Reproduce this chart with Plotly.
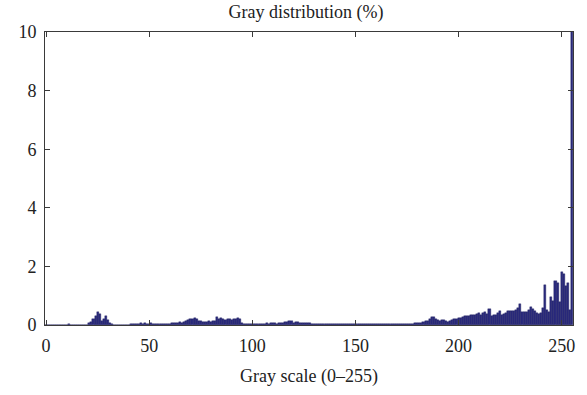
import plotly.graph_objects as go

gray_levels = list(range(256))
percent = [
    0, 0, 0, 0, 0, 0, 0, 0, 0, 0, 0.01, 0.03, 0.01, 0, 0, 0,
    0, 0, 0, 0, 0.01, 0.06, 0.11, 0.2, 0.3, 0.43, 0.37, 0.15, 0.2, 0.32, 0.17, 0.06,
    0.02, 0.01, 0.01, 0.01, 0.01, 0.01, 0.01, 0.01, 0.01, 0.02, 0.02, 0.03, 0.04, 0.05, 0.06, 0.04,
    0.08, 0.05, 0.04, 0.06, 0.03, 0.04, 0.03, 0.03, 0.04, 0.03, 0.05, 0.04, 0.05, 0.06, 0.07, 0.06,
    0.08, 0.09, 0.08, 0.1, 0.12, 0.18, 0.22, 0.2, 0.24, 0.2, 0.13, 0.12, 0.11, 0.1, 0.1, 0.12,
    0.11, 0.12, 0.15, 0.28, 0.2, 0.25, 0.19, 0.18, 0.2, 0.19, 0.18, 0.2, 0.19, 0.24, 0.22, 0.08,
    0.05, 0.04, 0.05, 0.04, 0.04, 0.03, 0.03, 0.04, 0.05, 0.04, 0.05, 0.06, 0.05, 0.06, 0.07, 0.06,
    0.05, 0.06, 0.07, 0.08, 0.09, 0.1, 0.15, 0.12, 0.08, 0.09, 0.1, 0.07, 0.08, 0.07, 0.06, 0.08,
    0.07, 0.05, 0.04, 0.05, 0.04, 0.03, 0.04, 0.05, 0.04, 0.03, 0.04, 0.05, 0.03, 0.04, 0.05, 0.04,
    0.04, 0.03, 0.04, 0.05, 0.03, 0.04, 0.03, 0.03, 0.04, 0.03, 0.03, 0.02, 0.03, 0.04, 0.03, 0.03,
    0.03, 0.04, 0.03, 0.03, 0.04, 0.03, 0.04, 0.03, 0.04, 0.04, 0.03, 0.04, 0.05, 0.04, 0.04, 0.05,
    0.04, 0.05, 0.05, 0.06, 0.06, 0.07, 0.08, 0.09, 0.12, 0.15, 0.22, 0.28, 0.26, 0.2, 0.17, 0.15,
    0.16, 0.18, 0.12, 0.11, 0.15, 0.18, 0.2, 0.22, 0.25, 0.24, 0.27, 0.3, 0.32, 0.3, 0.33, 0.35,
    0.34, 0.37, 0.4, 0.34, 0.42, 0.45, 0.375, 0.55, 0.31, 0.34, 0.34, 0.42, 0.47, 0.35, 0.375, 0.42,
    0.47, 0.49, 0.47, 0.48, 0.51, 0.59, 0.72, 0.43, 0.43, 0.43, 0.51, 0.6, 0.55, 0.48, 0.42, 0.375,
    0.42, 0.57, 1.36, 0.51, 0.45, 0.94, 0.83, 1.51, 1.45, 0.8, 1.8, 1.73, 1.34, 1.42, 0.5, 12,
]

x_ticks = [0, 50, 100, 150, 200, 250]
y_ticks = [0, 2, 4, 6, 8, 10]

title_text = "Gray distribution (%)"
x_title = "Gray scale (0\u2013255)"

FONT = "Liberation Serif, Times New Roman, serif"
FS = 18
AXIS_COLOR = "#3a3a3a"
TEXT_COLOR = "#222222"

fig = go.Figure(
    go.Bar(
        x=gray_levels,
        y=percent,
        width=1.0,
        marker=dict(color="#2b2b7e", line=dict(color="#1c1c5c", width=0.4)),
    )
)

fig.update_layout(
    template="none",
    width=587,
    height=395,
    margin=dict(l=45, r=14, t=32, b=70, autoexpand=False),
    paper_bgcolor="white",
    plot_bgcolor="white",
    bargap=0,
    showlegend=False,
    font=dict(family=FONT, size=FS, color=TEXT_COLOR),
    title=dict(
        text=title_text,
        x=306 / 587,
        xanchor="center",
        y=1 - 12 / 395,
        yanchor="middle",
        yref="container",
        font=dict(family=FONT, size=FS, color=TEXT_COLOR),
    ),
)

fig.update_xaxes(
    automargin=False,
    range=[-0.5, 255.5],
    tickmode="array",
    tickvals=x_ticks,
    ticks="inside",
    ticklen=5,
    tickwidth=1,
    tickcolor=AXIS_COLOR,
    showline=True,
    linecolor=AXIS_COLOR,
    linewidth=1,
    mirror="ticks",
    showgrid=False,
    zeroline=False,
    ticklabelstandoff=4,
    title=dict(text=x_title, standoff=14, font=dict(family=FONT, size=FS, color=TEXT_COLOR)),
    tickfont=dict(family=FONT, size=FS, color=TEXT_COLOR),
)

fig.update_yaxes(
    automargin=False,
    range=[0, 10],
    tickmode="array",
    tickvals=y_ticks,
    ticks="inside",
    ticklen=5,
    tickwidth=1,
    tickcolor=AXIS_COLOR,
    showline=True,
    linecolor=AXIS_COLOR,
    linewidth=1,
    mirror="ticks",
    showgrid=False,
    zeroline=False,
    ticklabelstandoff=4,
    tickfont=dict(family=FONT, size=FS, color=TEXT_COLOR),
)

fig.write_html(
    "out.html",
    config={"displayModeBar": False},
    post_script="document.body.style.margin='0';document.body.style.padding='0';",
)
